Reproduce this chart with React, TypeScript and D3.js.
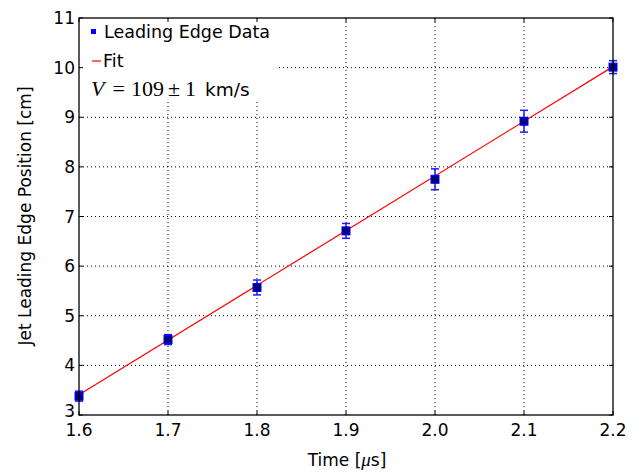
import React, { useEffect, useRef } from 'react';
import * as d3 from 'd3';

// leading edge data (time in μs, position in cm, error in cm)
const times = [1.6, 1.7, 1.8, 1.9, 2.0, 2.1, 2.2];
const positions = [3.38, 4.52, 5.57, 6.71, 7.75, 8.92, 10.01];
const errors = [0.1, 0.1, 0.15, 0.15, 0.21, 0.22, 0.13];

// linear fit endpoints
const fitTimes = [1.6, 2.2];
const fitPositions = [3.41, 10.02];

const xTicks = [1.6, 1.7, 1.8, 1.9, 2.0, 2.1, 2.2];
const yTicks = [3, 4, 5, 6, 7, 8, 9, 10, 11];

const W = 644, H = 473;
const SANS = "'DejaVu Sans', sans-serif";
const SERIF = "'Liberation Serif', 'DejaVu Serif', serif";

export default function App() {
  const svgRef = useRef<SVGSVGElement>(null);

  useEffect(() => {
    const svg = d3.select(svgRef.current);
    svg.selectAll('*').remove();

    const x = d3.scaleLinear().domain([1.6, 2.2]).range([79, 613]);
    const y = d3.scaleLinear().domain([3, 11]).range([415, 18]);
    const [x0, x1] = x.range();
    const [y0, y1] = y.range();

    const g = svg.append('g');

    // grid
    g.append('g').selectAll('line').data(xTicks.slice(1, -1)).enter().append('line')
      .attr('x1', d => x(d)).attr('x2', d => x(d)).attr('y1', y0).attr('y2', y1)
      .attr('stroke', '#000').attr('stroke-width', 1).attr('stroke-dasharray', '1,3');
    g.append('g').selectAll('line').data(yTicks.slice(1, -1)).enter().append('line')
      .attr('x1', x0).attr('x2', x1).attr('y1', d => y(d)).attr('y2', d => y(d))
      .attr('stroke', '#000').attr('stroke-width', 1).attr('stroke-dasharray', '1,3');

    // fit line
    const line = d3.line<number>().x((d, i) => x(fitTimes[i])).y(d => y(d));
    g.append('path').datum(fitPositions).attr('d', line)
      .attr('fill', 'none').attr('stroke', '#ff0000').attr('stroke-width', 1.2);

    // error bars
    const pts = times.map((t, i) => ({ t, p: positions[i], e: errors[i] }));
    const eb = g.append('g').attr('stroke', '#1a1aff').attr('stroke-width', 1.5);
    pts.forEach(d => {
      const cx = x(d.t);
      eb.append('line').attr('x1', cx).attr('x2', cx).attr('y1', y(d.p - d.e)).attr('y2', y(d.p + d.e));
      eb.append('line').attr('x1', cx - 4).attr('x2', cx + 4).attr('y1', y(d.p - d.e)).attr('y2', y(d.p - d.e));
      eb.append('line').attr('x1', cx - 4).attr('x2', cx + 4).attr('y1', y(d.p + d.e)).attr('y2', y(d.p + d.e));
    });

    // markers
    g.append('g').selectAll('rect').data(pts).enter().append('rect')
      .attr('x', d => x(d.t) - 4).attr('y', d => y(d.p) - 4)
      .attr('width', 8).attr('height', 8)
      .attr('fill', '#000080').attr('stroke', '#0000ff').attr('stroke-width', 1);

    // legend box (covers grid)
    g.append('rect').attr('x', x0 + 1).attr('y', y1 + 1).attr('width', 196).attr('height', 82).attr('fill', '#fff');

    // frame
    g.append('rect').attr('x', x0).attr('y', y1).attr('width', x1 - x0).attr('height', y0 - y1)
      .attr('fill', 'none').attr('stroke', '#000').attr('stroke-width', 1.3);

    // inner ticks
    const tk = g.append('g').attr('stroke', '#000').attr('stroke-width', 1);
    xTicks.forEach(t => {
      tk.append('line').attr('x1', x(t)).attr('x2', x(t)).attr('y1', y0).attr('y2', y0 - 4);
      tk.append('line').attr('x1', x(t)).attr('x2', x(t)).attr('y1', y1).attr('y2', y1 + 4);
    });
    yTicks.forEach(t => {
      tk.append('line').attr('x1', x0).attr('x2', x0 + 4).attr('y1', y(t)).attr('y2', y(t));
      tk.append('line').attr('x1', x1).attr('x2', x1 - 4).attr('y1', y(t)).attr('y2', y(t));
    });

    // tick labels
    g.append('g').selectAll('text').data(xTicks).enter().append('text')
      .attr('x', d => x(d)).attr('y', y0 + 21).attr('text-anchor', 'middle')
      .style('font-family', SANS).style('font-size', '17px').text(d => d.toFixed(1));
    g.append('g').selectAll('text').data(yTicks).enter().append('text')
      .attr('x', x0 - 4).attr('y', d => y(d) + 6 - (d === 3 ? 4 : 0)).attr('text-anchor', 'end')
      .style('font-family', SANS).style('font-size', '17px').text(d => String(d));

    // axis titles
    const xt = g.append('text').attr('x', 347).attr('y', 466).attr('text-anchor', 'middle')
      .style('font-family', SANS).style('font-size', '17px');
    xt.append('tspan').text('Time [');
    xt.append('tspan').style('font-family', SERIF).style('font-style', 'italic').style('font-size', '19px').text('μ');
    xt.append('tspan').text('s]');

    g.append('text').attr('transform', 'translate(31,216) rotate(-90)').attr('text-anchor', 'middle')
      .style('font-family', SANS).style('font-size', '17px').text('Jet Leading Edge Position [cm]');

    // legend
    g.append('rect').attr('x', 91).attr('y', 29).attr('width', 5).attr('height', 5).attr('fill', '#0000ff');
    g.append('text').attr('x', 104).attr('y', 38).style('font-family', SANS).style('font-size', '17.5px').text('Leading Edge Data');
    g.append('line').attr('x1', 92).attr('x2', 101).attr('y1', 61).attr('y2', 61).attr('stroke', '#ff0000').attr('stroke-width', 1.2);
    g.append('text').attr('x', 103).attr('y', 67).style('font-family', SANS).style('font-size', '17.5px').text('Fit');

    const vt = g.append('text').attr('x', 91).attr('y', 96).style('font-size', '22px').style('font-family', SERIF);
    vt.append('tspan').style('font-style', 'italic').text('V');
    vt.append('tspan').attr('dx', 8).text('=');
    vt.append('tspan').attr('dx', 6).text('109');
    vt.append('tspan').attr('dx', 4).text('±');
    vt.append('tspan').attr('dx', 5).text('1');
    vt.append('tspan').attr('dx', 9).style('font-family', SANS).style('font-size', '18.5px').text('km/s');
  }, []);

  return (
    <div style={{ position: 'absolute', left: 0, top: 0, background: '#fff' }}>
      <svg ref={svgRef} width={W} height={H} style={{ display: 'block' }} />
    </div>
  );
}
